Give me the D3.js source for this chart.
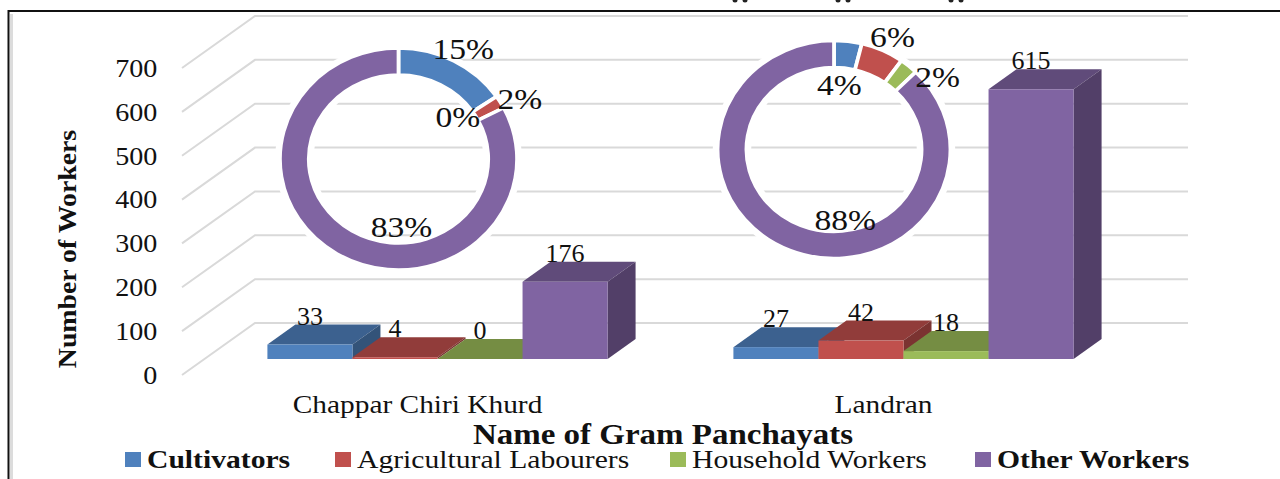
<!DOCTYPE html>
<html>
<head>
<meta charset="utf-8">
<script src="https://d3js.org/d3.v7.min.js"></script>
<style>
  html, body { margin: 0; padding: 0; background: #fff; }
  svg { display: block; }
  text { font-family: "Liberation Serif", serif; fill: #111; }
</style>
</head>
<body>
<svg id="chart"></svg>
<script>
// --- Data ---
const panchayats = ["Chappar Chiri Khurd", "Landran"];
const workerTypes = ["Cultivators", "Agricultural Labourers", "Household Workers", "Other Workers"];
const chapparValues = [33, 4, 0, 176];
const landranValues = [27, 42, 18, 615];
const chapparPercents = ["15%", "2%", "0%", "83%"];
const landranPercents = ["4%", "6%", "2%", "88%"];
const yTicks = [0, 100, 200, 300, 400, 500, 600, 700];

const groupValues = [chapparValues, landranValues];
const groupPercents = [chapparPercents, landranPercents];

// --- Colours ---
const frontColors = ["#4f81bd", "#c0504d", "#9bbb59", "#8064a2"];
const topColors = ["#3c618f", "#913c3a", "#758d43", "#604b7a"];
const sideColors = ["#335379", "#7b3331", "#64783a", "#523f68"];

// --- Layout ---
const width = 1280, height = 479;
const wallDx = 73, wallDy = 52;   // depth of the floor
const barDx = 28, barDy = 20;     // depth of a bar
const insetDy = 16;               // bars stand this far in from the front of the floor

const svg = d3.select("#chart")
    .attr("width", width)
    .attr("height", height)
    .attr("viewBox", [0, 0, width, height]);

// Scales
const yWall = d3.scaleLinear().domain([0, 700]).range([375, 68]);
const x = d3.scaleBand()
    .domain(panchayats)
    .range([204.5, 1136.5])
    .paddingInner(0.27)
    .paddingOuter(0.135);
const xInner = d3.scaleBand()
    .domain(workerTypes)
    .range([0, x.bandwidth()]);

// --- Frame (open on the right, the picture is a crop) ---
svg.append("path")
    .attr("d", "M11.5,479V14")
    .attr("fill", "none")
    .attr("stroke", "#dcdcdc")
    .attr("stroke-width", 3);
svg.append("path")
    .attr("d", "M8.5,479V11H1280")
    .attr("fill", "none")
    .attr("stroke", "#111")
    .attr("stroke-width", 2);

// bottoms of the cropped heading above the frame
svg.append("g")
    .attr("fill", "#222")
  .selectAll("circle")
  .data([735, 745, 838, 848, 951, 961])
  .join("circle")
    .attr("cx", d => d)
    .attr("cy", 0)
    .attr("r", 2.5);

// --- Gridlines on wall and side ---
const grid = svg.append("g").attr("fill", "none").attr("stroke", "#d9d9d9").attr("stroke-width", 2);
grid.selectAll("path")
  .data(yTicks)
  .join("path")
    .attr("d", d => `M182,${yWall(d)}L${182 + wallDx},${yWall(d) - wallDy}H1188`);

// --- Y axis ---
svg.append("g")
    .attr("transform", "translate(166,0)")
    .call(d3.axisLeft(yWall).tickValues(yTicks).tickSize(0).tickPadding(8))
    .call(g => g.select(".domain").remove())
    .call(g => g.selectAll("text")
        .attr("font-family", "Liberation Serif")
        .attr("font-size", 26)
        .attr("fill", "#333")
        .attr("transform", "scale(1.08,1)"));

// --- X axis labels ---
svg.append("g")
    .attr("transform", "translate(-20,390)")
    .call(d3.axisBottom(x).tickSize(0).tickPadding(5))
    .call(g => g.select(".domain").remove())
    .call(g => g.selectAll("text")
        .attr("font-family", "Liberation Serif")
        .attr("font-size", 26)
        .attr("fill", "#222")
        .attr("transform", "scale(1.13,1)"));

// --- 3D bars ---
panchayats.forEach((name, gi) => {
    const values = groupValues[gi];
    const g = svg.append("g");

    workerTypes.forEach((type, i) => {
        const x0 = x(name) + xInner(type);
        const x1 = x0 + xInner.bandwidth();
        const yBase = yWall(0) - insetDy;
        const yTop = yWall(values[i]) - insetDy;

        // top face
        g.append("path")
            .attr("d", `M${x0},${yTop}L${x0 + barDx},${yTop - barDy}H${x1 + barDx}L${x1},${yTop}Z`)
            .attr("fill", topColors[i]);
        // side face
        g.append("path")
            .attr("d", `M${x1},${yTop}L${x1 + barDx},${yTop - barDy}V${yBase - barDy}L${x1},${yBase}Z`)
            .attr("fill", sideColors[i]);
        // front face
        g.append("rect")
            .attr("x", x0)
            .attr("y", yTop)
            .attr("width", x1 - x0)
            .attr("height", yBase - yTop)
            .attr("fill", frontColors[i]);
    });

    // value labels sit on the back edge of each bar top
    g.selectAll("text")
      .data(values)
      .join("text")
        .attr("x", (d, i) => x(name) + xInner(workerTypes[i]) + xInner.bandwidth() / 2)
        .attr("y", d => yWall(d) - insetDy - barDy)
        .attr("text-anchor", "middle")
        .attr("font-size", 26)
        .text(d => d);
});

// --- Donuts ---
const donutCenters = [[398.5, 159], [834, 149.5]];
const donutRadii = [[84, 111], [82, 109]];
const donutScaleX = 1.068;
const pie = d3.pie().sort(null);
// hand placed in the original chart, offset from each slice centroid
const labelOffsets = [
    [[16, -20.5], [32, -7], [-33, 6], [57, -12]],
    [[-7, 33], [16, -23], [38, 4], [50, -15]]
];

panchayats.forEach((name, gi) => {
    const slices = pie(groupValues[gi]);
    const [cx, cy] = donutCenters[gi];
    const [rIn, rOut] = donutRadii[gi];
    const arc = d3.arc().innerRadius(rIn).outerRadius(rOut);
    const g = svg.append("g").attr("transform", `translate(${cx},${cy})`);
    const ring = g.append("g").attr("transform", `scale(${donutScaleX},1)`);

    // white halo that interrupts the gridlines
    ring.append("path")
        .attr("d", d3.arc().innerRadius(rIn).outerRadius(rOut).startAngle(0).endAngle(2 * Math.PI)())
        .attr("fill", "#fff")
        .attr("stroke", "#fff")
        .attr("stroke-width", 9);

    ring.selectAll(".slice")
      .data(slices.filter(d => d.value > 0))
      .join("path")
        .attr("class", "slice")
        .attr("d", arc)
        .attr("fill", d => frontColors[d.index])
        .attr("stroke", "#fff")
        .attr("stroke-width", 3.5);

    g.selectAll("text")
      .data(slices)
      .join("text")
        .attr("transform", d => {
            const [ox, oy] = labelOffsets[gi][d.index];
            const [c0, c1] = arc.centroid(d);
            return `translate(${c0 * donutScaleX + ox},${c1 + oy}) scale(1.12,1)`;
        })
        .attr("text-anchor", "middle")
        .attr("dominant-baseline", "middle")
        .attr("font-size", 30)
        .text(d => groupPercents[gi][d.index]);
});

// --- Axis titles ---
svg.append("text")
    .attr("transform", "translate(76,249) rotate(-90) scale(1.07,1)")
    .attr("text-anchor", "middle")
    .attr("font-size", 26)
    .attr("font-weight", "bold")
    .text("Number of Workers");

svg.append("text")
    .attr("transform", "translate(663,444) scale(1.1,1)")
    .attr("text-anchor", "middle")
    .attr("font-size", 30)
    .attr("font-weight", "bold")
    .text("Name of Gram Panchayats");

// --- Legend ---
const legendX = [125, 335, 670, 975];
const legendBold = [true, false, false, true];
const legend = svg.append("g")
  .selectAll("g")
  .data(workerTypes)
  .join("g")
    .attr("transform", (d, i) => `translate(${legendX[i]},452)`);

legend.append("rect")
    .attr("width", 16)
    .attr("height", 15)
    .attr("fill", (d, i) => frontColors[i]);

legend.append("text")
    .attr("transform", "translate(22,16) scale(1.14,1)")
    .attr("font-size", 26)
    .attr("font-weight", (d, i) => legendBold[i] ? "bold" : "normal")
    .text(d => d);
</script>
</body>
</html>
